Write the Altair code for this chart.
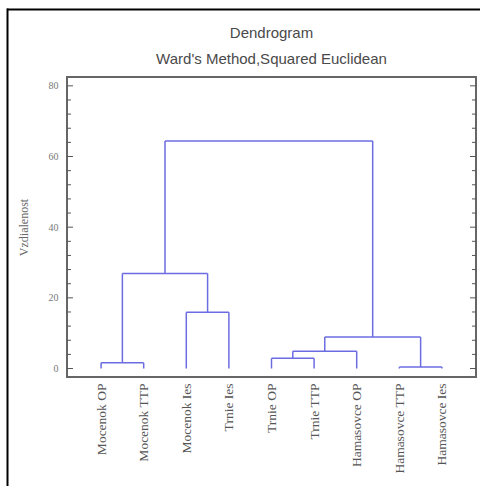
import json
import altair as alt
import pandas as pd

# ---- data ----
labels = ["Mocenok OP", "Mocenok TTP", "Mocenok Ies", "Trnie Ies", "Trnie OP",
          "Trnie TTP", "Hamasovce OP", "Hamasovce TTP", "Hamasovce Ies"]
# linkage: cluster n+k joins merge_left[k] and merge_right[k] at merge_height[k]
merge_left = [0, 2, 9, 4, 12, 7, 13, 11]
merge_right = [1, 3, 10, 5, 6, 8, 14, 15]
merge_height = [1.6, 15.9, 26.9, 2.9, 4.9, 0.4, 8.9, 64.4]
y_major = [0, 20, 40, 60, 80]
y_minor = [4, 8, 12, 16, 24, 28, 32, 36, 44, 48, 52, 56, 64, 68, 72, 76]
title_lines = ["Dendrogram", "Ward's Method,Squared Euclidean"]

# ---- build dendrogram segments from the linkage ----
n = len(labels)
pos = {i: float(i) for i in range(n)}
hgt = {i: 0.0 for i in range(n)}
rows = []
for k, (l, r, h) in enumerate(zip(merge_left, merge_right, merge_height)):
    cid = n + k
    rows.append({"x": pos[l], "y": hgt[l], "x2": pos[l], "y2": h})
    rows.append({"x": pos[r], "y": hgt[r], "x2": pos[r], "y2": h})
    rows.append({"x": pos[l], "y": h, "x2": pos[r], "y2": h})
    pos[cid] = (pos[l] + pos[r]) / 2
    hgt[cid] = h
seg_df = pd.DataFrame(rows)

W, H = 409, 300
xs = alt.Scale(domain=[-0.8, 8.8], nice=False, zero=False)
ys = alt.Scale(domain=[-2.4, 82.5], nice=False, zero=False)

serif = "Liberation Serif"
sans = "Liberation Sans"

label_expr = json.dumps(labels) + "[datum.value]"

y_axis = alt.Axis(
    values=y_major, labelFont=serif, labelFontSize=10, labelColor="#777",
    labelPadding=9, ticks=False, tickSize=0, domain=False, grid=False,
    title="Vzdialenost", titleFont=serif, titleFontSize=12,
    titleFontWeight="normal", titleColor="#666", titlePadding=18)

seg = alt.Chart(seg_df).mark_rule(color="#6c6ce2", strokeWidth=1.5).encode(
    x=alt.X("x:Q", scale=xs, axis=alt.Axis(
        values=list(range(n)), labelExpr=label_expr, labelAngle=270,
        labelFont=serif, labelFontSize=13.5, labelColor="#555",
        labelPadding=6, ticks=False, domain=False, grid=False, title=None)),
    x2="x2:Q",
    y=alt.Y("y:Q", scale=ys, axis=y_axis),
    y2="y2:Q",
)

maj_df = pd.DataFrame({"v": y_major})
min_df = pd.DataFrame({"v": y_minor})

def ticks(df, x0, x1):
    return alt.Chart(df).mark_rule(color="#555", strokeWidth=1).encode(
        y=alt.Y("v:Q", scale=ys, axis=y_axis),
        x=alt.value(x0), x2=alt.value(x1))

tick_layers = [
    ticks(maj_df, 0, 6), ticks(min_df, 0, 4),
    ticks(maj_df, W, W - 6), ticks(min_df, W, W - 4),
]

one = pd.DataFrame({"a": [0]})
top_border = alt.Chart(one).mark_rule(color="black", strokeWidth=2).encode(
    x=alt.value(-60), x2=alt.value(413), y=alt.value(-67.5))
left_border = alt.Chart(one).mark_rule(color="black", strokeWidth=2).encode(
    x=alt.value(-59.5), y=alt.value(-68.5), y2=alt.value(420))

def title_text(txt, ypos):
    return alt.Chart(pd.DataFrame({"t": [txt]})).mark_text(
        font=sans, fontSize=15, color="#4a4a4a", align="center",
        baseline="alphabetic").encode(
        text="t:N", x=alt.value(W / 2), y=alt.value(ypos))

title_main = title_text(title_lines[0], -39.5)
title_sub = title_text(title_lines[1], -13)

chart = alt.layer(seg, *tick_layers, top_border, left_border,
                  title_main, title_sub).properties(
    width=W, height=H,
    background="white",
    autosize=alt.AutoSizeParams(type="none"),
    padding={"left": 67, "top": 77, "right": 5, "bottom": 109},
).configure_view(stroke="#666", strokeWidth=2)

chart.save("out.html", embed_options={"renderer": "svg", "actions": False})
